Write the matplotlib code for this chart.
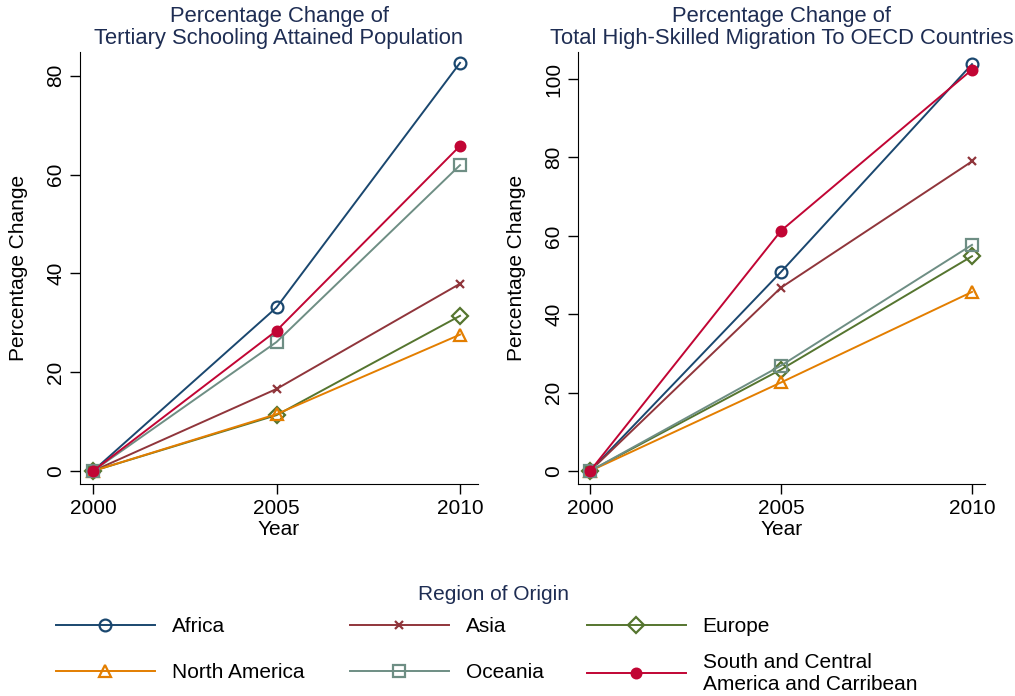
import numpy as np
import matplotlib
matplotlib.use("Agg")
import matplotlib.pyplot as plt

plt.rcParams['font.family'] = ['Liberation Sans', 'DejaVu Sans']

years = [2000, 2005, 2010]
regions = ["Africa", "Asia", "Europe", "North America", "Oceania",
           "South and Central\nAmerica and Carribean"]

# percentage change of tertiary schooling attained population
tertiary = {
    "Africa":        [0, 33.1, 82.6],
    "Asia":          [0, 16.6, 37.9],
    "Europe":        [0, 11.3, 31.4],
    "North America": [0, 11.5, 27.6],
    "Oceania":       [0, 26.1, 61.9],
    "South and Central\nAmerica and Carribean": [0, 28.4, 65.8],
}

# percentage change of total high-skilled migration to OECD countries
migration = {
    "Africa":        [0, 50.8, 103.8],
    "Asia":          [0, 46.8, 79.0],
    "Europe":        [0, 25.9, 54.8],
    "North America": [0, 22.6, 45.7],
    "Oceania":       [0, 26.9, 57.7],
    "South and Central\nAmerica and Carribean": [0, 61.3, 102.4],
}

# stata s2color look
colors = ["#1a476f", "#90353b", "#55752f", "#e37e00", "#6e8e84", "#c10534"]
markers = ["o", "x", "D", "^", "s", "o"]
msizes = [8.5, 6, 8, 9, 8, 7]
filled = [False, False, False, False, False, True]

TITLE_COL = "#1e2d53"
FS = 15

fig = plt.figure(figsize=(10.15, 6.96), dpi=100)
ax1 = fig.add_axes([80 / 1015, 1 - 484 / 696, 398 / 1015, 432 / 696])
ax2 = fig.add_axes([578 / 1015, 1 - 484 / 696, 407 / 1015, 432 / 696])


def draw_panel(ax, data, title, xlim, ylim, yticks):
    handles = []
    for i, r in enumerate(regions):
        fc = colors[i] if filled[i] else "none"
        h, = ax.plot(years, data[r], color=colors[i], lw=1.4,
                     marker=markers[i], ms=msizes[i], mfc=fc,
                     mec=colors[i], mew=1.6, label=r,
                     clip_on=False)
        handles.append(h)
    ax.set_xlim(*xlim)
    ax.set_ylim(*ylim)
    ax.set_xticks(years)
    ax.set_yticks(yticks)
    ax.tick_params(axis='both', direction='out', length=7.5, width=1,
                   labelsize=FS, pad=3)
    for lab in ax.get_yticklabels():
        lab.set_rotation(90)
        lab.set_va('center')
    ax.spines['top'].set_visible(False)
    ax.spines['right'].set_visible(False)
    ax.set_xlabel("Year", fontsize=FS, labelpad=2)
    ax.set_ylabel("Percentage Change", fontsize=FS, labelpad=13)
    ax.set_title(title, fontsize=15.8, color=TITLE_COL, pad=6,
                 linespacing=1.05)
    return handles


handles = draw_panel(ax1, tertiary,
                     "Percentage Change of\nTertiary Schooling Attained Population",
                     (1999.646, 2010.49), (-2.63, 84.8), [0, 20, 40, 60, 80])
draw_panel(ax2, migration,
           "Percentage Change of\nTotal High-Skilled Migration To OECD Countries",
           (1999.686, 2010.34), (-3.3, 106.9), [0, 20, 40, 60, 80, 100])

# legend: one small legend per key so the grid matches stata's layout
fig.text(493 / 1015, 1 - 595 / 696, "Region of Origin", fontsize=FS,
         color=TITLE_COL, ha='center', va='center')
col_x = [56, 350, 587]
row_y = [627, 673]
for k in range(len(regions)):
    row, col = divmod(k, 3)
    fig.legend([handles[k]], [regions[k]], loc='center left',
               bbox_to_anchor=(col_x[col] / 1015, 1 - row_y[row] / 696),
               frameon=False, fontsize=FS, handlelength=4.75,
               handletextpad=0.8, borderaxespad=0, borderpad=0)

fig.savefig("out.png", dpi=100)
